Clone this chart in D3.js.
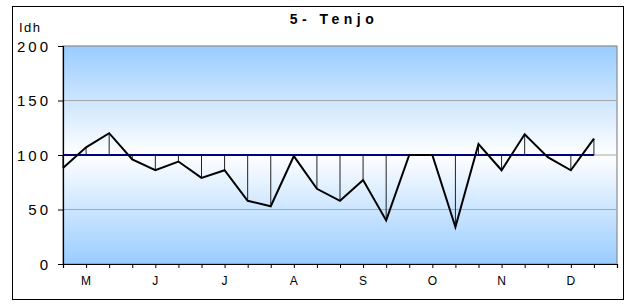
<!DOCTYPE html>
<html><head><meta charset="utf-8">
<script src="https://cdn.jsdelivr.net/npm/d3@7"></script>
<style>
html,body{margin:0;padding:0;background:#fff;}
text{font-family:"Liberation Sans",Arial,sans-serif;fill:#000;}
</style></head>
<body>
<svg id="chart" width="627" height="305"></svg>
<script>
const title = "5- Tenjo";
const yLabel = "Idh";
const months = ["M","J","J","A","S","O","N","D"];
const samplesPerMonth = 3;
const values = [88, 107, 120, 96, 86, 94, 79, 86, 58, 53, 99, 69, 58, 77, 40, 100, 100, 34, 110, 86, 119, 98, 86, 115];
const reference = [100,100,100,100,100,100,100,100,100,100,100,100,100,100,100,100,100,100,100,100,100,100,100,100];
const yTicks = [0, 50, 100, 150, 200];

const categories = d3.range(months.length * samplesPerMonth + 1);

const svg = d3.select("#chart");
const L = 63, R = 617, T = 46, B = 264;

// outer border
svg.append("rect").attr("x", 12.5).attr("y", 6.5).attr("width", 611).attr("height", 293)
  .attr("fill", "#fff").attr("stroke", "#000").attr("stroke-width", 1);

const x = d3.scalePoint().domain(categories).range([L, R]);
const y = d3.scaleLinear().domain([0, 200]).range([B, T]);

// gradient
const defs = svg.append("defs");
const grad = defs.append("linearGradient").attr("id", "bg").attr("x1", 0).attr("y1", 0).attr("x2", 0).attr("y2", 1);
grad.append("stop").attr("offset", "0%").attr("stop-color", "#99CCFF");
grad.append("stop").attr("offset", "50%").attr("stop-color", "#FFFFFF");
grad.append("stop").attr("offset", "100%").attr("stop-color", "#99CCFF");

svg.append("rect").attr("x", L).attr("y", T).attr("width", R - L).attr("height", B - T)
  .attr("fill", "url(#bg)").attr("stroke", "#8c8c8c").attr("stroke-width", 1.2);

// gridlines
svg.append("g").selectAll("line").data(yTicks.filter(d => d > 0 && d < 200)).join("line")
  .attr("x1", L).attr("x2", R).attr("y1", d => y(d)).attr("y2", d => y(d))
  .attr("stroke", "#a6a6a6").attr("stroke-width", 1.2);

// high-low lines
svg.append("g").selectAll("line").data(values).join("line")
  .attr("x1", (d, i) => x(i)).attr("x2", (d, i) => x(i))
  .attr("y1", d => y(d)).attr("y2", (d, i) => y(reference[i]))
  .attr("stroke", "#222").attr("stroke-width", 1);

// reference line
svg.append("path").datum(reference)
  .attr("d", d3.line().x((d, i) => x(i)).y(d => y(d)))
  .attr("fill", "none").attr("stroke", "#000080").attr("stroke-width", 2);

// data line
svg.append("path").datum(values)
  .attr("d", d3.line().x((d, i) => x(i)).y(d => y(d)))
  .attr("fill", "none").attr("stroke", "#000").attr("stroke-width", 2).attr("stroke-linejoin", "miter");

// y axis
const yAxis = svg.append("g").attr("transform", `translate(${L},0)`)
  .call(d3.axisLeft(y).tickValues(yTicks).tickSize(5).tickPadding(0).tickFormat(d3.format("d")));
yAxis.select(".domain").attr("stroke", "#000").attr("stroke-width", 1.2);
yAxis.selectAll(".tick line").attr("stroke", "#000");
yAxis.selectAll(".tick text").attr("x", -12).attr("dy", "0.35em")
  .style("font-size", "15px").style("letter-spacing", "3px").attr("text-anchor", "end");

// x axis
const xAxis = svg.append("g").attr("transform", `translate(0,${B})`)
  .call(d3.axisBottom(x).tickSize(4).tickFormat(i => {
    const m = Math.floor(i / samplesPerMonth);
    return (i % samplesPerMonth === 1 && m < months.length) ? months[m] : "";
  }));
xAxis.select(".domain").attr("stroke", "#000").attr("stroke-width", 1.2);
xAxis.selectAll(".tick line").attr("stroke", "#000");
xAxis.selectAll(".tick text").attr("y", 17).attr("dy", "0.35em")
  .style("font-size", "12px").style("letter-spacing", "1px");

// title
svg.append("text").attr("x", 334).attr("y", 24).attr("text-anchor", "middle")
  .style("font-size", "14px").style("font-weight", "bold").style("letter-spacing", "4.5px").text(title);

// y label
svg.append("text").attr("x", 19).attr("y", 32).style("font-size", "13px").style("letter-spacing", "1.5px").text(yLabel);
</script>
</body></html>
